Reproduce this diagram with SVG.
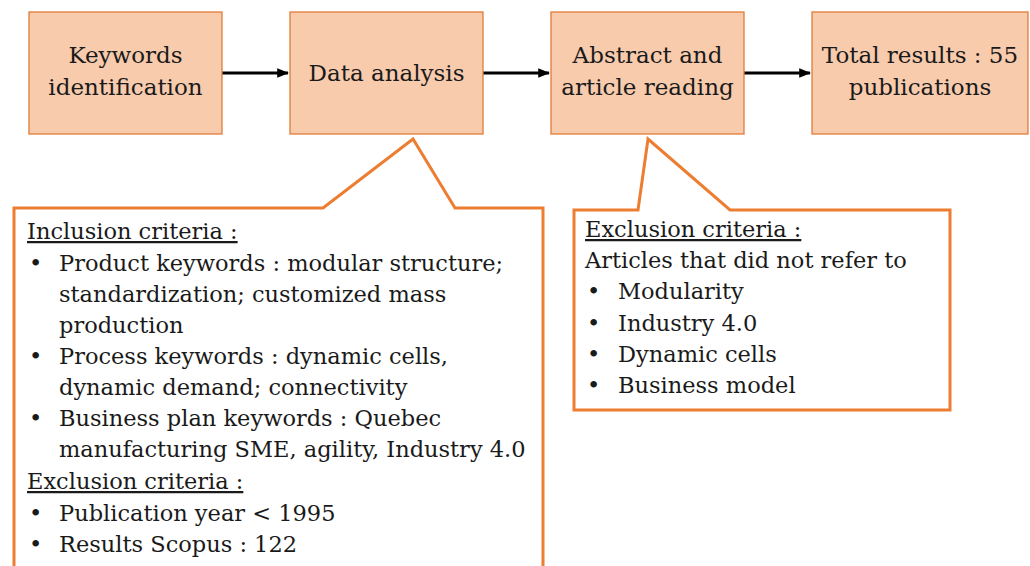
<svg xmlns="http://www.w3.org/2000/svg" width="1030" height="566" viewBox="0 0 1030 566">
<style>
text{font-family:"DejaVu Serif","Liberation Serif",serif;fill:#1a1a1a;font-size:22.5px}
.box{fill:#F8CBAD;stroke:#E07B39;stroke-width:1.3}
.bt{text-anchor:middle;font-size:23px}
.call{fill:#fff;stroke:#ED7D31;stroke-width:3;stroke-linejoin:miter}
.u{text-decoration:underline}
.conn{stroke:#000;stroke-width:3;fill:none}
</style>
<defs>
<marker id="ah" viewBox="0 0 10 10" refX="9" refY="5" markerWidth="4" markerHeight="4" orient="auto" markerUnits="strokeWidth">
<path d="M0,1 L10,5 L0,9 z" fill="#000"/>
</marker>
</defs>
<rect width="1030" height="566" fill="#fff"/>
<g id="connectors">
<line class="conn" x1="222" y1="73" x2="288" y2="73" marker-end="url(#ah)"/>
<line class="conn" x1="483" y1="73" x2="549" y2="73" marker-end="url(#ah)"/>
<line class="conn" x1="744" y1="73" x2="810" y2="73" marker-end="url(#ah)"/>
</g>
<g id="node-keywords">
<rect class="box" x="29" y="12" width="193" height="122"/>
<text class="bt" x="125.5" y="63">Keywords</text>
<text class="bt" x="125.5" y="95">identification</text>
</g>
<g id="node-data">
<rect class="box" x="290" y="12" width="193" height="122"/>
<text class="bt" x="386.5" y="81">Data analysis</text>
</g>
<g id="node-abstract">
<rect class="box" x="551" y="12" width="193" height="122"/>
<text class="bt" x="647.5" y="63">Abstract and</text>
<text class="bt" x="647.5" y="95">article reading</text>
</g>
<g id="node-total">
<rect class="box" x="812" y="12" width="216" height="122"/>
<text class="bt" x="920" y="63">Total results : 55</text>
<text class="bt" x="920" y="95">publications</text>
</g>
<g id="callout-inclusion">
<path class="call" d="M14,570 L14,208 L323,208 L413,139 L455,208 L543,208 L543,570"/>
<text x="27" y="239" class="u">Inclusion criteria :</text>
<text x="29" y="271">•</text><text x="59" y="271">Product keywords : modular structure;</text>
<text x="59" y="302">standardization; customized mass</text>
<text x="59" y="333">production</text>
<text x="29" y="364">•</text><text x="59" y="364">Process keywords : dynamic cells,</text>
<text x="59" y="395">dynamic demand; connectivity</text>
<text x="29" y="426">•</text><text x="59" y="426">Business plan keywords : Quebec</text>
<text x="59" y="457">manufacturing SME, agility, Industry 4.0</text>
<text x="27" y="489" class="u">Exclusion criteria :</text>
<text x="29" y="521">•</text><text x="59" y="521">Publication year &lt; 1995</text>
<text x="29" y="552">•</text><text x="59" y="552">Results Scopus : 122</text>
</g>
<g id="callout-exclusion">
<path class="call" d="M574,410 L574,210 L638,210 L648,139 L730,210 L950,210 L950,410 Z"/>
<text x="585" y="237" class="u">Exclusion criteria :</text>
<text x="585" y="268">Articles that did not refer to</text>
<text x="587" y="299">•</text><text x="618" y="299">Modularity</text>
<text x="587" y="331">•</text><text x="618" y="331">Industry 4.0</text>
<text x="587" y="362">•</text><text x="618" y="362">Dynamic cells</text>
<text x="587" y="393">•</text><text x="618" y="393">Business model</text>
</g>
</svg>
